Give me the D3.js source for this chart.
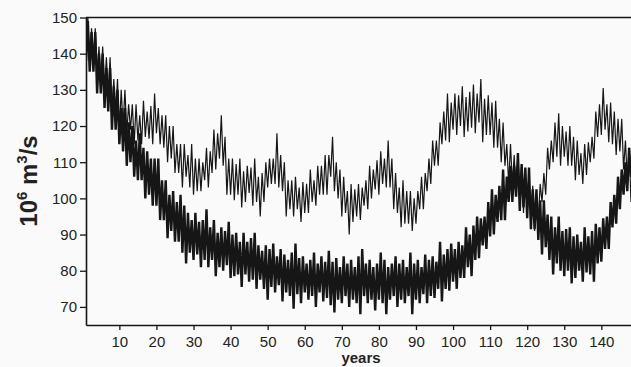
<!DOCTYPE html>
<html>
<head>
<meta charset="utf-8">
<script src="https://cdn.jsdelivr.net/npm/d3@7"></script>
<style>
html,body{margin:0;padding:0;background:#fafafa;}
svg{display:block;}
</style>
</head>
<body>
<div id="chart"></div>
<script>
// ---- data ----
const firstYear = 1;
const xTicks = [10,20,30,40,50,60,70,80,90,100,110,120,130,140];
const yTicks = [70,80,90,100,110,120,130,140,150];

// upper (thin) series: running level per year and spike sizes
const thinMid = [
145,143,141,139,137,135,132,130,128,126,
124,123,122,121,120,120,120,120.5,121,121,
120,118,116,114,112,111,110,109,108,107,
106,107,108,109,111,113,114,113,108,106,
105.5,105,104.5,104,104.5,104,103,103,104,106,
108,110,108,105,102,101,100,100,99.5,100,
101,102,104,105,106,108,109,107,104,101,
99,98,98.5,99,100,101,102,104,105.5,107,
108,108,106,103,100,99,98,97,97,98,
100,103,106,109,112,115,119,121,122.5,123,
123.5,124,124,123.5,123.5,124,124,123.5,122.5,121.5,
120,118,115,112,110,108,106,104,102,100,
98.5,97,98,102,107,112,115,115.5,115,114.5,
114,113,111,109.5,109,110.5,113,117,121,122.5,
122,120.5,119,118,116,113,109,105];
const thinUp = [
5,4,6,3,5,4,7,3,5,4,
6,3,4,5,3,7,4,5,8,4,
3,5,4,6,3,4,5,3,7,4,
5,3,6,4,8,5,9,4,3,5,
4,6,3,5,4,7,3,4,6,5,
3,8,4,5,3,4,6,3,5,4,
7,3,5,4,6,4,8,3,4,5,
3,6,4,5,3,4,7,4,5,6,
3,8,5,4,3,6,4,5,3,4,
6,4,5,7,4,6,5,8,4,6,
5,7,4,6,8,5,9,4,6,5,
7,4,6,3,5,4,6,5,4,3,
5,4,6,5,7,4,6,8,5,4,
6,4,5,3,6,5,4,7,5,8,
4,6,5,4,6,3,5,4];
const thinDown = [
4,5,3,6,4,5,3,6,4,7,
4,5,3,6,4,5,3,4,6,3,
5,4,6,3,5,4,7,3,5,6,
4,5,3,6,4,5,3,4,7,5,
6,4,7,5,3,6,4,8,5,3,
4,6,5,3,7,4,5,3,6,4,
5,3,6,4,5,7,3,5,4,6,
3,8,5,4,6,3,5,4,3,6,
4,5,3,6,4,7,5,4,6,5,
3,6,4,5,3,6,4,5,7,4,
6,4,7,5,4,6,3,8,5,4,
6,4,5,3,6,4,5,3,6,4,
5,6,4,3,6,4,5,4,6,3,
5,4,6,3,5,4,3,6,4,5,
3,5,4,6,3,5,4,6];

// lower (thick) series
const thickMid = [
143,141,139,136,134,131,128,126,124,121,
118,116,114,112,110,109,107,106,104,102,
100,99,97,95,94,93,92,91,90,89,
88.5,88,88,87,87,86.5,86,86,85.5,85,
84.5,84,83.5,83,83,82.5,82,81.5,81,81,
80.5,80,80,79.5,79,79,78.5,78.5,78,78,
78,78,78,78,77.5,77.5,77.5,77.5,77,77,
77,77,77,77,77,77,77,77,77,77,
77,77,77,77,77,77,77,77,77,77,
77,77.5,78,78,78.5,79,79.5,80,80.5,81,
82,83,84,85,86.5,88,89.5,91,93,94.5,
96,97.5,99,101,103,105,105.5,104.5,102.5,100.5,
98.5,96.5,94.5,92.5,90.5,89,88,87,86,85.5,
85,84.5,84,84,84,84.5,85,86,87,88.5,
91,93,96,99,102,105,108,111];
const thickUp = [
6,5,7,4,6,5,8,5,6,4,
7,5,6,4,8,5,6,5,7,9,
5,6,4,7,5,8,6,5,4,7,
5,6,9,5,7,4,6,5,8,5,
6,4,7,5,6,8,5,4,6,5,
7,4,6,5,4,6,9,5,6,4,
5,7,4,6,5,8,5,6,4,7,
5,6,4,7,9,5,6,4,5,8,
6,4,5,7,5,6,4,8,5,6,
4,7,5,6,4,9,5,6,7,5,
6,4,8,5,6,7,5,4,6,8,
5,6,9,5,6,4,7,5,6,8,
4,6,5,7,5,6,4,8,5,6,
7,5,6,4,8,5,6,7,5,6,
4,6,5,7,6,5,6,4];
const thickDown = [
5,6,4,7,5,6,4,7,5,6,
5,7,4,6,5,4,7,5,6,4,
6,5,8,4,6,5,7,9,5,6,
4,7,5,6,4,8,5,6,4,7,
6,5,8,4,6,5,7,4,6,9,
5,6,4,8,5,6,9,5,7,4,
6,5,8,4,6,5,7,9,5,6,
4,7,5,6,9,4,6,5,8,5,
6,9,5,4,7,5,6,4,9,5,
6,4,7,5,6,4,8,5,6,4,
7,5,6,4,8,5,6,4,7,5,
6,4,5,7,4,6,5,8,5,6,
7,5,6,8,4,6,9,5,6,7,
5,8,6,4,7,5,6,9,5,6,
5,7,4,6,5,4,6,5];

// ---- layout ----
const W = 631, H = 367;
const mLeft = 86, mRight = 631, mTop = 17.5, mBottom = 325;
const ink = "#161616";

const svg = d3.select("#chart").append("svg")
  .attr("width", W).attr("height", H)
  .style("background", "#fafafa");

const x = d3.scaleLinear().domain([1, 148]).range([mLeft, mRight]);
const y = d3.scaleLinear().domain([65, 150]).range([mBottom, mTop]);

svg.append("clipPath").attr("id", "plotclip")
  .append("rect").attr("x", mLeft).attr("y", mTop)
  .attr("width", mRight - mLeft).attr("height", mBottom - mTop);

// build zig-zag point lists: trough at the year, crest half a year later
function points(mid, up, down) {
  const pts = [];
  mid.forEach((m, i) => {
    const t = firstYear + i;
    pts.push([t, m - down[i]]);
    if (i < mid.length - 1) pts.push([t + 0.5, m + up[i]]);
  });
  return pts;
}
const line = d3.line().x(d => x(d[0])).y(d => y(d[1]));

const g = svg.append("g").attr("clip-path", "url(#plotclip)");
g.append("path").datum(points(thickMid, thickUp, thickDown))
  .attr("d", line).attr("fill", "none").attr("stroke", ink)
  .attr("stroke-width", 2.4).attr("stroke-linejoin", "miter");
g.append("path").datum(points(thinMid, thinUp, thinDown))
  .attr("d", line).attr("fill", "none").attr("stroke", ink)
  .attr("stroke-width", 1.2).attr("stroke-linejoin", "miter");

// frame: top border
svg.append("line").attr("x1", mLeft).attr("x2", mRight)
  .attr("y1", mTop).attr("y2", mTop)
  .attr("stroke", ink).attr("stroke-width", 1.6);

// axes
const font = "'Liberation Sans', Arial, sans-serif";
const xAxis = svg.append("g").attr("transform", `translate(0,${mBottom})`)
  .call(d3.axisBottom(x).tickValues(xTicks).tickSize(5).tickPadding(6).tickSizeOuter(0));
const yAxis = svg.append("g").attr("transform", `translate(${mLeft},0)`)
  .call(d3.axisLeft(y).tickValues(yTicks).tickSize(6).tickPadding(3).tickSizeOuter(0));
[xAxis, yAxis].forEach(a => {
  a.select(".domain").attr("stroke", ink).attr("stroke-width", 1.6);
  a.selectAll(".tick line").attr("stroke", ink).attr("stroke-width", 1.3);
  a.selectAll(".tick text").attr("fill", "#222")
    .style("font-family", font).style("font-size", "15px");
});

// axis titles
svg.append("text").attr("x", 361).attr("y", 363)
  .attr("text-anchor", "middle").attr("fill", "#222")
  .style("font-family", font).style("font-size", "15px").style("font-weight", "bold")
  .text("years");

const yt = svg.append("text")
  .attr("transform", "translate(37,181) rotate(-90)")
  .attr("text-anchor", "middle").attr("fill", "#222")
  .style("font-family", font).style("font-size", "24px").style("font-weight", "bold");
yt.append("tspan").text("10");
yt.append("tspan").attr("dy", -10).style("font-size", "15px").text("6");
yt.append("tspan").attr("dy", 10).text(" m");
yt.append("tspan").attr("dy", -10).style("font-size", "15px").text("3");
yt.append("tspan").attr("dy", 10).text("/s");
</script>
</body>
</html>
